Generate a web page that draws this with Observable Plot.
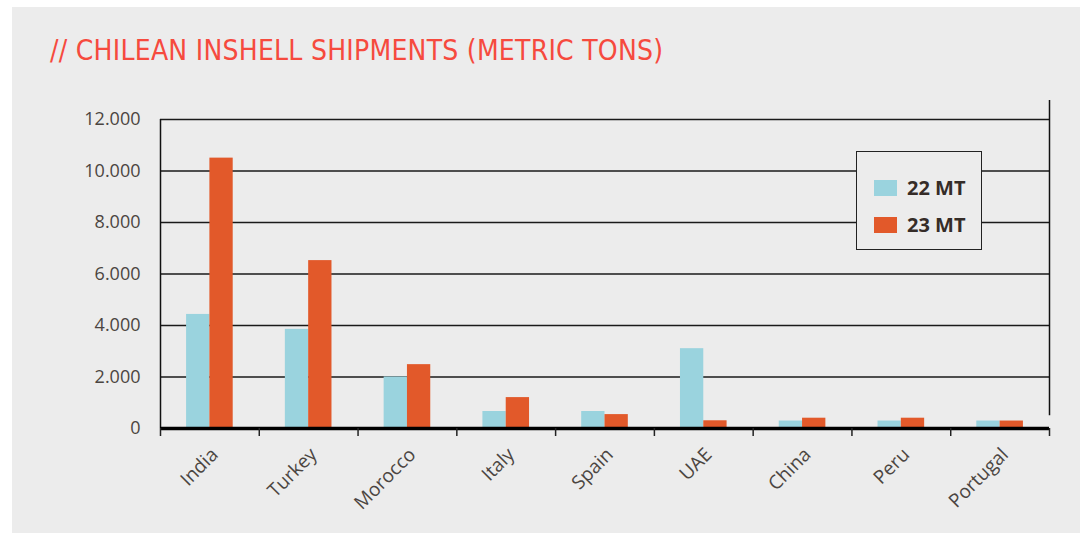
<!DOCTYPE html>
<html>
<head>
<meta charset="utf-8">
<script src="https://cdn.jsdelivr.net/npm/d3@7"></script>
<script src="https://cdn.jsdelivr.net/npm/@observablehq/plot@0.6"></script>
<style>
  html, body { margin: 0; padding: 0; background: #ffffff; }
  #wrap { position: relative; width: 1083px; height: 533px; overflow: hidden; }
  #panel { position: absolute; left: 12px; top: 7px; width: 1068px; height: 526px; background: #ececec; }
  #title { position: absolute; left: 50px; top: 34px; font-family: "Liberation Sans Narrow", "DejaVu Sans Condensed", sans-serif;
           font-size: 28px; color: #f64a3e; letter-spacing: 0.25px; white-space: nowrap; }
  #chart { position: absolute; left: 0; top: 0; }
  #legend { position: absolute; left: 856px; top: 151px; width: 124px; height: 97px; border: 1.5px solid #222;
            background: #ececec; font-family: "Open Sans", sans-serif; font-weight: 700; font-size: 20px; color: #352c28; }
  .item { position: absolute; left: 17px; display: flex; align-items: center; }
  .sw { width: 23px; height: 16px; margin-right: 10px; }
</style>
</head>
<body>
<div id="wrap">
  <div id="panel"></div>
  <div id="title">// CHILEAN INSHELL SHIPMENTS (METRIC TONS)</div>
  <div id="chart"></div>
  <div id="legend"></div>
</div>
<script>
const countries = ["India", "Turkey", "Morocco", "Italy", "Spain", "UAE", "China", "Peru", "Portugal"];
const seriesNames = ["22 MT", "23 MT"];
const colors = ["#9ad3de", "#e2592a"];
const values22 = [4430, 3850, 2000, 660, 660, 3100, 290, 290, 290];
const values23 = [10500, 6520, 2480, 1200, 540, 300, 400, 400, 290];
const yTicks = [0, 2000, 4000, 6000, 8000, 10000, 12000];

const barW = 0.236;
const rows = [];
countries.forEach((c, i) => {
  rows.push({country: c, series: seriesNames[0], value: values22[i], x1: i + 0.5 - barW, x2: i + 0.5});
  rows.push({country: c, series: seriesNames[1], value: values23[i], x1: i + 0.5, x2: i + 0.5 + barW});
});

const fmt = d => d3.format(",")(d).replace(/,/g, ".");
const textColor = "#4b4541";

const chart = Plot.plot({
  width: 1083,
  height: 533,
  marginLeft: 160,
  marginRight: 34,
  marginTop: 119,
  marginBottom: 105,
  style: {background: "transparent", fontFamily: "Open Sans, sans-serif", color: textColor},
  x: {domain: [0, countries.length], axis: null, label: null},
  y: {domain: [0, 12000], axis: null, label: null},
  color: {domain: seriesNames, range: colors},
  marks: [
    Plot.gridY(yTicks, {stroke: "#1a1a1a", strokeOpacity: 1, strokeWidth: 1.3}),
    Plot.ruleX([countries.length], {y1: 500, y2: 12740, stroke: "#111", strokeWidth: 1.5, clip: false}),
    Plot.rectY(rows, {x1: "x1", x2: "x2", y: "value", fill: "series"}),
    Plot.ruleX([0], {y1: 0, y2: 12000, stroke: "#111", strokeWidth: 1.5}),
    Plot.ruleY([0], {stroke: "#000", strokeWidth: 3.5}),
    Plot.axisY(yTicks, {tickSize: 0, tickPadding: 20, tickFormat: fmt, fontSize: 18, fill: textColor, label: null}),
    Plot.axisX(d3.range(0, countries.length + 1), {tickSize: 8, tickFormat: () => "", stroke: "#222", strokeWidth: 1.5, label: null}),
    Plot.axisX(d3.range(countries.length).map(i => i + 0.5), {tickSize: 0, tickPadding: 23, dx: 5, tickRotate: -45,
      tickFormat: d => countries[Math.round(d - 0.5)], fontSize: 19, fill: textColor, label: null})
  ]
});
document.getElementById("chart").appendChild(chart);

const legend = document.getElementById("legend");
seriesNames.forEach((s, i) => {
  const item = document.createElement("div");
  item.className = "item";
  item.style.top = (22 + i * 37) + "px";
  const sw = document.createElement("div");
  sw.className = "sw";
  sw.style.background = colors[i];
  const t = document.createElement("span");
  t.textContent = s;
  item.appendChild(sw);
  item.appendChild(t);
  legend.appendChild(item);
});
</script>
</body>
</html>
